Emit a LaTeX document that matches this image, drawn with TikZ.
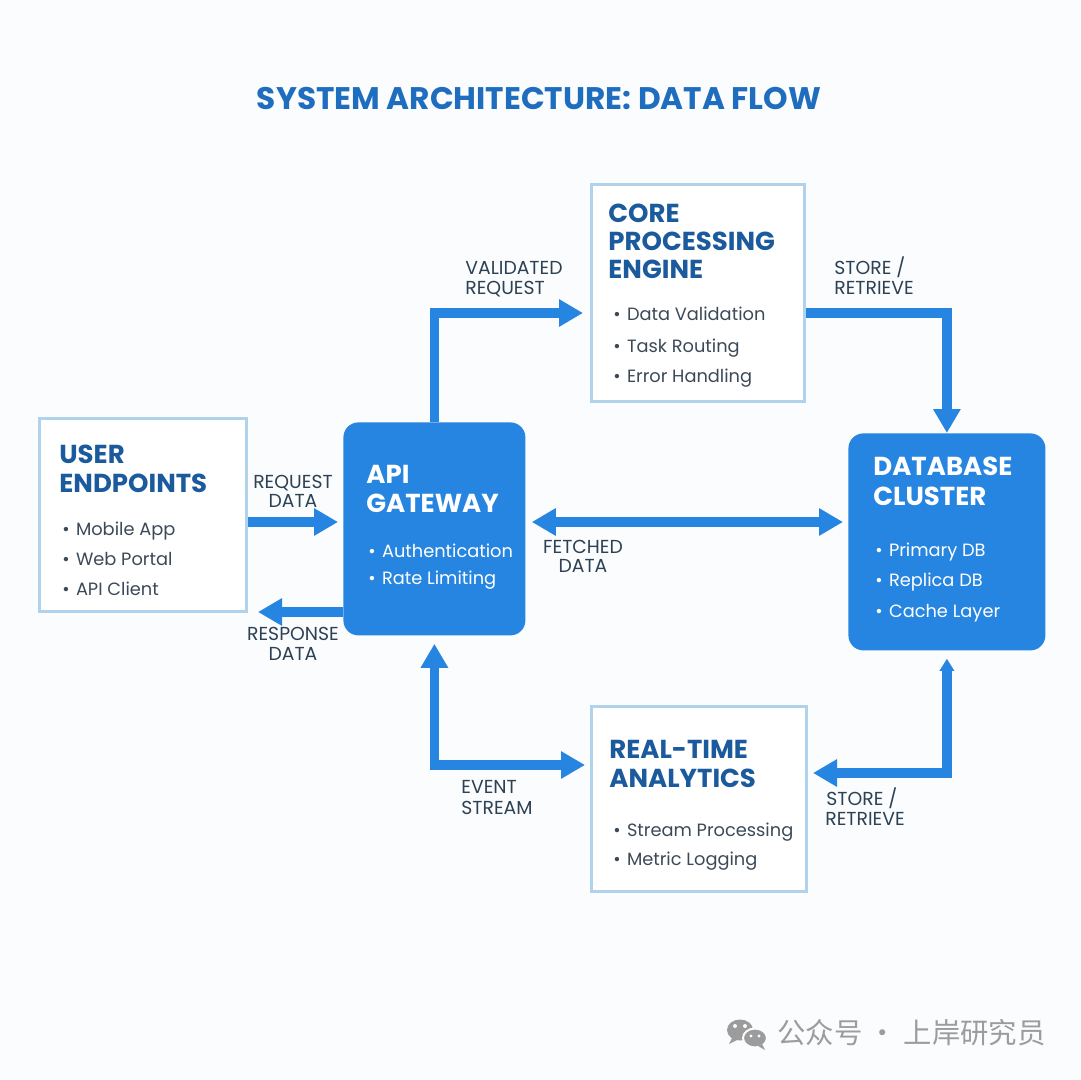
\documentclass[tikz,border=0pt]{standalone}
\usepackage{fontspec}
\setmainfont{Poppins}
\newfontfamily\cjk{Noto Sans CJK SC}
\usetikzlibrary{arrows.meta}
\definecolor{bgc}{HTML}{FBFCFD}
\definecolor{flowc}{HTML}{2685E0}
\definecolor{ttlc}{HTML}{1F6DBE}
\definecolor{hdrc}{HTML}{1B5A9C}
\definecolor{edgec}{HTML}{B0D3EB}
\definecolor{bodyc}{HTML}{3C4A58}
\definecolor{lblc}{HTML}{2C4153}
\definecolor{wmc}{HTML}{9C9C9C}
\newcommand\itembul[1]{\makebox[6.8pt][l]{\textbullet}#1}
\begin{document}
\begin{tikzpicture}[x=0.5pt,y=-0.5pt,
  lightbox/.style={draw=edgec, line width=1.5pt, fill=white, inner sep=0pt, anchor=north west},
  darkbox/.style={fill=flowc, rounded corners=7.5pt, inner sep=0pt, anchor=north west},
  hd/.style={anchor=base west, inner sep=0pt, font=\bfseries\fontsize{13}{13}\selectfont, text=hdrc},
  hdw/.style={hd, text=white},
  bl/.style={anchor=base west, inner sep=0pt, font=\fontsize{8.9}{8.9}\selectfont, text=bodyc},
  blw/.style={bl, text=white},
  lb/.style={anchor=base, inner sep=0pt, font=\fontsize{9.4}{9.4}\selectfont, text=lblc},
  lbl/.style={lb, anchor=base west},
  flow/.style={draw=flowc, line width=4.8pt, line join=miter},
  tip/.style={-{Triangle[width=13pt,length=12pt]}},
  tips/.style={{Triangle[width=13pt,length=12pt]}-{Triangle[width=13pt,length=12pt]}},
]
\fill[bgc] (0,0) rectangle (1080,1080);

% title
\node[anchor=base, inner sep=0pt, font=\bfseries\fontsize{15.6}{15.6}\selectfont, text=ttlc] (title) at (539,110) {SYSTEM ARCHITECTURE: DATA FLOW};

% boxes
\node[lightbox, minimum width=103.5pt, minimum height=96.5pt] (ue) at (38,417) {};
\node[darkbox, minimum width=91pt, minimum height=106.5pt] (gw) at (343,422) {};
\node[lightbox, minimum width=106.5pt, minimum height=108.5pt] (core) at (590,183) {};
\node[darkbox, minimum width=98.5pt, minimum height=108.5pt] (db) at (848,433) {};
\node[lightbox, minimum width=107.5pt, minimum height=92.5pt] (an) at (590,705) {};

% user endpoints
\node[hd] (ue1) at (59,463) {USER};
\node[hd] (ue2) at (59,492) {ENDPOINTS};
\node[bl] (ue3) at (62,535) {\itembul{Mobile App}};
\node[bl] (ue4) at (62,565) {\itembul{Web Portal}};
\node[bl] (ue5) at (62,595) {\itembul{API Client}};

% api gateway
\node[hdw] (gw1) at (366,483) {API};
\node[hdw] (gw2) at (366,512) {GATEWAY};
\node[blw] (gw3) at (368,557) {\itembul{Authentication}};
\node[blw] (gw4) at (368,584) {\itembul{Rate Limiting}};

% core
\node[hd] (co1) at (608,223) {CORE};
\node[hd] (co2) at (608,251) {PROCESSING};
\node[hd] (co3) at (608,279) {ENGINE};
\node[bl] (co4) at (613,321) {\itembul{Data Validation}};
\node[bl] (co5) at (613,352) {\itembul{Task Routing}};
\node[bl] (co6) at (613,382) {\itembul{Error Handling}};

% database
\node[hdw] (db1) at (873,475) {DATABASE};
\node[hdw] (db2) at (873,505) {CLUSTER};
\node[blw] (db3) at (875,556) {\itembul{Primary DB}};
\node[blw] (db4) at (875,586) {\itembul{Replica DB}};
\node[blw] (db5) at (875,617) {\itembul{Cache Layer}};

% analytics
\node[hd] (an1) at (609,758) {REAL-TIME};
\node[hd] (an2) at (609,787) {ANALYTICS};
\node[bl] (an3) at (613,836) {\itembul{Stream Processing}};
\node[bl] (an4) at (613,865) {\itembul{Metric Logging}};

% connector labels
\node[lb] (rq1) at (293,488) {REQUEST};
\node[lb] (rq2) at (293,507) {DATA};
\node[lb] (rs1) at (293,640) {RESPONSE};
\node[lb] (rs2) at (293,660) {DATA};
\node[lbl] (vr1) at (465,275) {VALIDATED};
\node[lbl] (vr2) at (465,295) {REQUEST};
\node[lbl] (st1) at (834,275) {STORE /};
\node[lbl] (st2) at (834,295) {RETRIEVE};
\node[lb] (fd1) at (583,553) {FETCHED};
\node[lb] (fd2) at (583,572) {DATA};
\node[lbl] (ev1) at (461,793) {EVENT};
\node[lbl] (ev2) at (461,814) {STREAM};
\node[lbl] (sb1) at (826,805) {STORE /};
\node[lbl] (sb2) at (825,825) {RETRIEVE};

% connectors
\draw[flow, tip, shorten >=2.5pt] (ue.east |- 0,522) -- (gw.west |- 0,522);
\draw[flow, tip, shorten >=5pt] (gw.west |- 0,612) -- (ue.east |- 0,612);
\draw[flow, tip, shorten >=3.5pt] (gw.north) |- (core.west |- 0,313);
\draw[flow, tip] (core.east |- 0,313) -| (db.north);
\draw[flow, tips, shorten <=3pt, shorten >=2.5pt] (gw.east |- 0,522) -- (db.west |- 0,522);
\draw[flow, tips, shorten <=4pt, shorten >=2.5pt] (gw.south) |- (an.west |- 0,765);
\draw[flow, {Triangle[width=7pt,length=6pt]}-{Triangle[width=13pt,length=12pt]}, shorten <=4pt, shorten >=2.5pt] (db.south) |- (an.east |- 0,773);

% watermark
\fill[wmc] (740,1030) ellipse [x radius=13, y radius=10.5];
\fill[wmc] (733,1036) -- (729,1044) -- (739,1039) -- cycle;
\filldraw[fill=wmc, draw=bgc, line width=1pt] (755,1038) ellipse [x radius=12, y radius=9.5];
\fill[wmc] (762,1044) -- (765,1050) -- (758,1046) -- cycle;
\fill[bgc] (735,1026) circle [radius=2];
\fill[bgc] (745,1026) circle [radius=2];
\fill[bgc] (751,1036) circle [radius=1.6];
\fill[bgc] (759,1036) circle [radius=1.6];
\node[anchor=base west, inner sep=0pt, font=\cjk\fontsize{14.2}{14.2}\selectfont, text=wmc] (wm) at (777,1043) {公众号 · 上岸研究员};
\end{tikzpicture}
\end{document}
